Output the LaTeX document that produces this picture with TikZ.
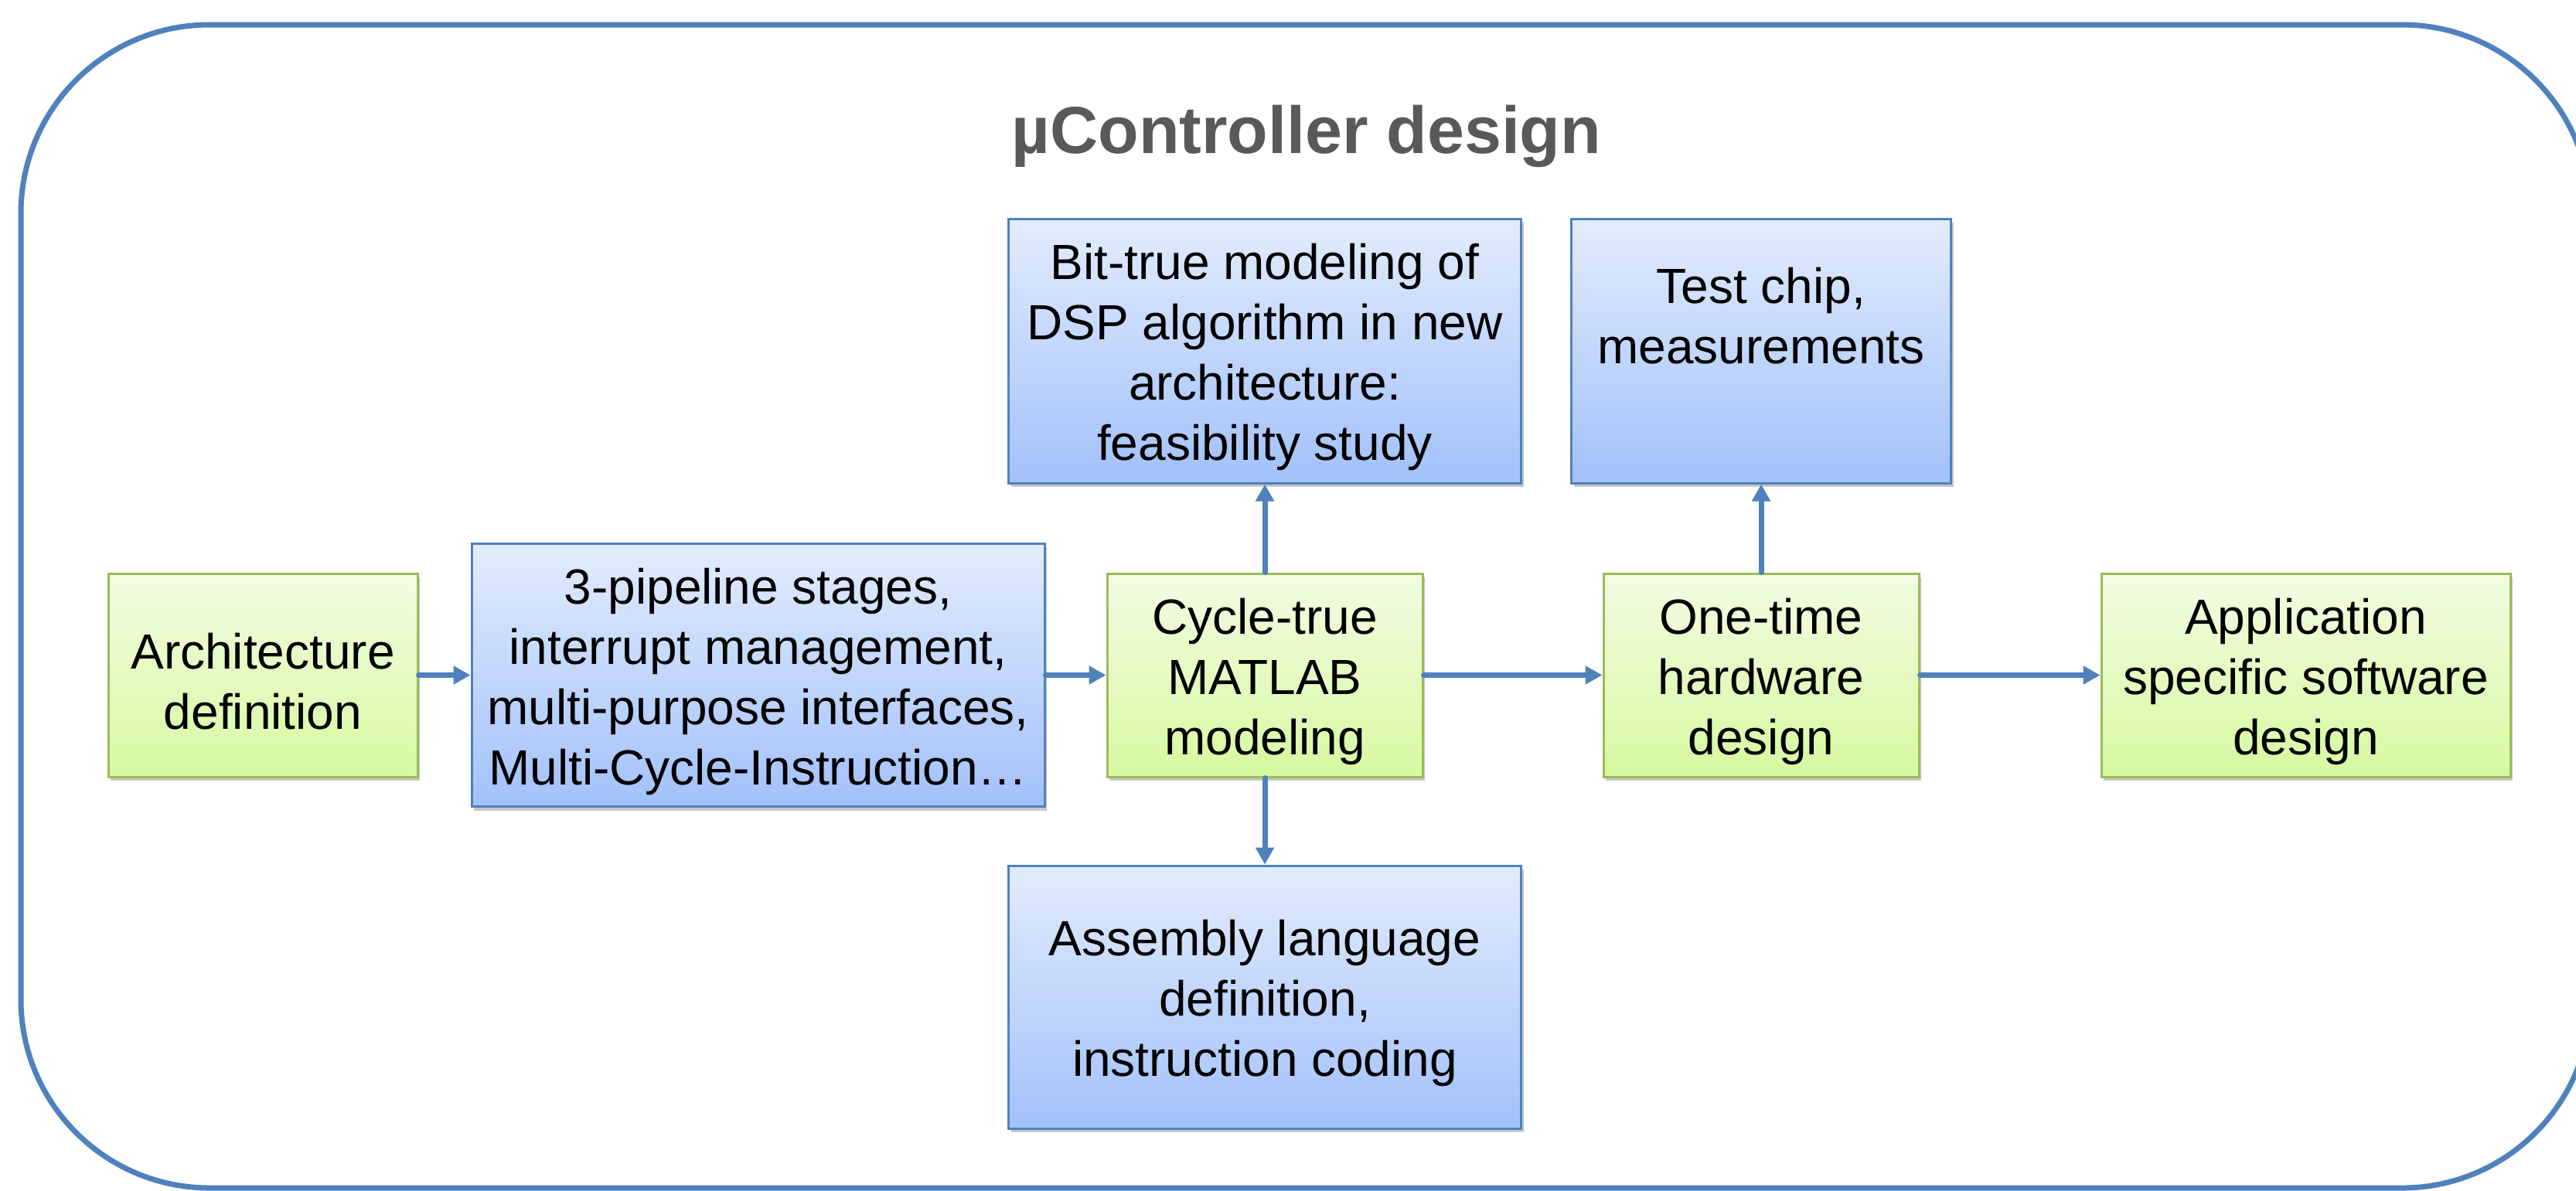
\documentclass[tikz,border=0pt]{standalone}
\usepackage{fontspec}
\setmainfont{Liberation Sans}
\usetikzlibrary{arrows.meta,shadows}

\definecolor{frameblue}{HTML}{4F81BD}
\definecolor{grnline}{HTML}{9BBB59}
\definecolor{grntop}{HTML}{F2FCE3}
\definecolor{grnbot}{HTML}{D7F9A0}
\definecolor{blutop}{HTML}{E2ECFD}
\definecolor{blubot}{HTML}{A2C1FA}
\definecolor{titlegray}{HTML}{595959}

\tikzset{
  boxbase/.style={line width=0.03cm, inner sep=0pt,
    drop shadow={shadow xshift=0.03cm, shadow yshift=-0.05cm, fill=black, opacity=0.22}},
  gbox/.style={boxbase, draw=grnline, top color=grntop, bottom color=grnbot},
  bbox/.style={boxbase, draw=frameblue, top color=blutop, bottom color=blubot},
  boxtext/.style={align=center, inner sep=0pt,
    font=\fontsize{18.2pt}{22.2pt}\selectfont},
  % text set in the middle of a box, lowered a little
  txt/.style={label={[boxtext, yshift=-0.08cm]center:#1}},
  % same, raised for the box with only two lines
  txtup/.style={label={[boxtext, yshift=0.45cm]center:#1}},
  arr/.style={draw=frameblue, line width=0.07cm, line cap=round,
    -{Triangle[length=0.22cm, width=0.23cm]}}
}

\begin{document}
\begin{tikzpicture}
\useasboundingbox (0,0) rectangle (33.32,-15.40);
\clip (0,0) rectangle (33.32,-15.40);

% outer frame, its right side runs past the page edge
\draw[frameblue, line width=0.07cm, rounded corners=2.44cm]
  (0.27,-0.32) rectangle (33.51,-15.37);

% title
\node[anchor=base, text=titlegray, font=\bfseries\fontsize{24.5pt}{29pt}\selectfont]
  (title) at (16.90,-1.98) {µController design};

% main row
\node[gbox, minimum width=4.00cm, minimum height=2.63cm,
  txt={Architecture\\definition}] (arch) at (3.40,-8.735) {};
\node[bbox, minimum width=7.41cm, minimum height=3.40cm,
  txt={3-pipeline stages,\\interrupt management,\\multi-purpose interfaces,\\Multi-Cycle-Instruction…}]
  (pipe) at (9.805,-8.735) {};
\node[gbox, minimum width=4.08cm, minimum height=2.63cm,
  txt={Cycle-true\\MATLAB\\modeling}] (cycle) at (16.36,-8.735) {};
\node[gbox, minimum width=4.08cm, minimum height=2.63cm,
  txt={One-time\\hardware\\design}] (onetime) at (22.78,-8.735) {};
\node[gbox, minimum width=5.29cm, minimum height=2.63cm,
  txt={Application\\specific software\\design}] (app) at (29.825,-8.735) {};

% upper row
\node[bbox, minimum width=6.63cm, minimum height=3.42cm,
  txt={Bit-true modeling of\\DSP algorithm in new\\architecture:\\feasibility study}]
  (bit) at (16.36,-4.54) {};
\node[bbox, minimum width=4.91cm, minimum height=3.42cm,
  txtup={Test chip,\\measurements}] (test) at (22.78,-4.54) {};

% lower row
\node[bbox, minimum width=6.63cm, minimum height=3.40cm,
  txt={Assembly language\\definition,\\instruction coding}] (asm) at (16.36,-12.90) {};

% connectors
\draw[arr] (arch.east) -- (pipe.west);
\draw[arr] (pipe.east) -- (cycle.west);
\draw[arr] (cycle.east) -- (onetime.west);
\draw[arr] (onetime.east) -- (app.west);
\draw[arr] (cycle.north) -- (bit.south);
\draw[arr] (cycle.south) -- (asm.north);
\draw[arr] (onetime.north) -- (test.south);
\end{tikzpicture}
\end{document}
